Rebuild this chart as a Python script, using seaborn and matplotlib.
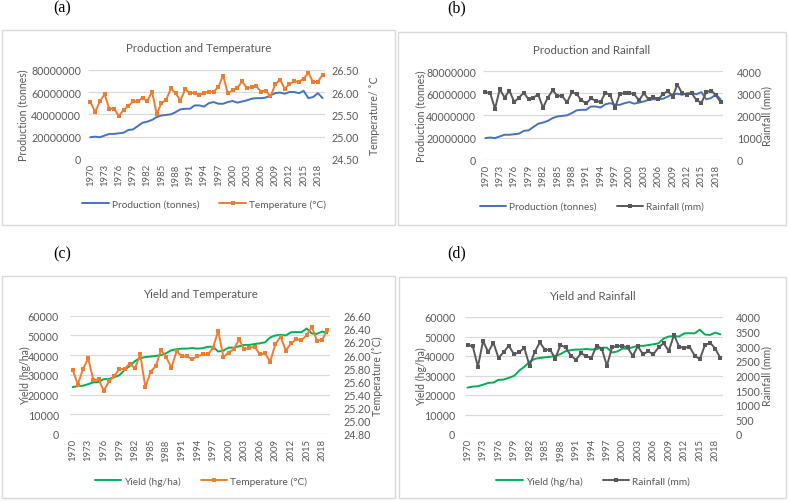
import matplotlib
matplotlib.use("Agg")
import matplotlib.pyplot as plt
from matplotlib.patches import Rectangle
from matplotlib.lines import Line2D
import seaborn as sns
import numpy as np
import pandas as pd

years = list(range(1970, 2020))
tick_years = list(range(1970, 2019, 3))

production = [19.5e6, 20.0e6, 19.5e6, 21.0e6, 22.5e6, 22.5e6, 23.0e6, 23.5e6, 26.0e6, 26.5e6,
              29.5e6, 32.5e6, 33.5e6, 35.0e6, 37.5e6, 39.0e6, 39.5e6, 40.0e6, 42.0e6, 44.5e6,
              45.0e6, 45.0e6, 48.0e6, 48.0e6, 47.0e6, 50.0e6, 51.0e6, 49.5e6, 49.5e6, 51.0e6,
              52.0e6, 50.5e6, 51.5e6, 52.5e6, 54.0e6, 54.5e6, 54.5e6, 55.0e6, 57.0e6, 59.0e6,
              59.5e6, 58.5e6, 60.0e6, 60.0e6, 59.0e6, 61.0e6, 54.5e6, 55.5e6, 59.0e6, 54.5e6]

temperature = [25.78, 25.55, 25.79, 25.95, 25.62, 25.63, 25.46, 25.60, 25.68, 25.79,
               25.79, 25.87, 25.80, 26.01, 25.51, 25.75, 25.83, 26.08, 25.97, 25.81,
               26.06, 25.98, 25.98, 25.94, 25.98, 26.01, 26.01, 26.11, 26.37, 25.97,
               26.04, 26.09, 26.24, 26.09, 26.11, 26.13, 26.01, 26.03, 25.90, 26.17,
               26.28, 26.07, 26.18, 26.24, 26.23, 26.30, 26.43, 26.22, 26.23, 26.39]

rainfall = [3050, 3000, 2300, 3180, 2800, 3120, 2600, 2800, 3020, 2720,
            2800, 2940, 2340, 2800, 3130, 2880, 2880, 2580, 3040, 2960,
            2680, 2540, 2760, 2660, 2600, 3020, 2920, 2330, 2970, 3000,
            3010, 2960, 2670, 3000, 2720, 2830, 2720, 2960, 3100, 2840,
            3390, 2990, 2940, 2990, 2680, 2560, 3040, 3120, 2920, 2590]

yield_ = [23800, 24300, 24500, 25300, 26200, 26400, 27800, 27900, 28800, 29800,
          32500, 34500, 37000, 38500, 39000, 39300, 39600, 40000, 41000, 42500,
          43000, 43300, 43300, 43600, 43300, 43500, 44200, 44300, 41800, 42300,
          43800, 43800, 44500, 45200, 45200, 45600, 46000, 46500, 49000, 50000,
          50200, 50000, 51600, 51700, 51600, 53500, 51000, 50800, 52000, 51100]

df = pd.DataFrame({"year": years, "production": production, "temperature": temperature,
                   "rainfall": rainfall, "yield": yield_})

sns.set_theme(style="white")
plt.rcParams["font.family"] = ["Lato", "DejaVu Sans"]

W, H = 789, 502
fig = plt.figure(figsize=(W / 100, H / 100), dpi=100)

TXT = "#595959"
GRID = "#D9D9D9"
BLUE = "#4472C4"
ORANGE = "#ED7D31"
GRAY = "#595959"
GREEN = "#00B050"
LW = 1.4
MS = 3.0


def fx(x):
    return x / W


def fy(y):
    return 1 - y / H


panels = [
    dict(box=(1.5, 31, 395.5, 225.5), ax=(88, 70.7, 325, 160),
         title="Production and Temperature", title_xy=(199, 48),
         left="production", left_color=BLUE, left_name="Production (tonnes)",
         left_lim=(0, 80e6), left_ticks=[0, 20e6, 40e6, 60e6, 80e6], left_fmt="{:.0f}",
         right="temperature", right_color=ORANGE, right_name="Temperature (°C)",
         right_lim=(24.5, 26.5), right_ticks=[24.5, 25.0, 25.5, 26.0, 26.5], right_fmt="{:.2f}",
         ylabel_l="Production (tonnes)", ylabel_r="Temperature/ ˚C",
         lx=23, rx=375, lpad=5, rpad=5, leg=(204, 205), label=("(a)", 62, 8)),
    dict(box=(398, 33, 785.5, 225.5), ax=(483, 72, 723, 160.7),
         title="Production and Rainfall", title_xy=(592, 50),
         left="production", left_color=BLUE, left_name="Production (tonnes)",
         left_lim=(0, 80e6), left_ticks=[0, 20e6, 40e6, 60e6, 80e6], left_fmt="{:.0f}",
         right="rainfall", right_color=GRAY, right_name="Rainfall (mm)",
         right_lim=(0, 4000), right_ticks=[0, 1000, 2000, 3000, 4000], right_fmt="{:.0f}",
         ylabel_l="Production (tonnes)", ylabel_r="Rainfall (mm)",
         lx=421, rx=767, lpad=5, rpad=10, leg=(592, 207.5), label=("(b)", 457, 8)),
    dict(box=(1.5, 277, 395.5, 499), ax=(70, 316.7, 330, 435),
         title="Yield and Temperature", title_xy=(200, 294),
         left="yield", left_color=GREEN, left_name="Yield (hg/ha)",
         left_lim=(0, 60000), left_ticks=[0, 10000, 20000, 30000, 40000, 50000, 60000], left_fmt="{:.0f}",
         right="temperature", right_color=ORANGE, right_name="Temperature (°C)",
         right_lim=(24.8, 26.6), right_ticks=[24.8, 25.0, 25.2, 25.4, 25.6, 25.8, 26.0, 26.2, 26.4, 26.6],
         right_fmt="{:.2f}",
         ylabel_l="Yield (hg/ha)", ylabel_r="Temperature (˚C)",
         lx=25, rx=377, lpad=8, rpad=10, leg=(201, 482), label=("(c)", 62, 254)),
    dict(box=(399, 278, 785.5, 499), ax=(465, 318, 723, 435),
         title="Yield and Rainfall", title_xy=(592, 296),
         left="yield", left_color=GREEN, left_name="Yield (hg/ha)",
         left_lim=(0, 60000), left_ticks=[0, 10000, 20000, 30000, 40000, 50000, 60000], left_fmt="{:.0f}",
         right="rainfall", right_color=GRAY, right_name="Rainfall (mm)",
         right_lim=(0, 4000), right_ticks=[0, 500, 1000, 1500, 2000, 2500, 3000, 3500, 4000],
         right_fmt="{:.0f}",
         ylabel_l="Yield (hg/ha)", ylabel_r="Rainfall (mm)",
         lx=421, rx=767, lpad=7, rpad=9, leg=(593, 482), label=("(d)", 457, 253)),
]

for p in panels:
    x0, y0, x1, y1 = p["box"]
    fig.patches.append(Rectangle((fx(x0), fy(y1)), fx(x1 - x0), (y1 - y0) / H,
                                 transform=fig.transFigure, facecolor="white",
                                 edgecolor=GRID, linewidth=1.0, zorder=-5))
    ax0, ay0, ax1, ay1 = p["ax"]
    ax = fig.add_axes([fx(ax0), fy(ay1), fx(ax1 - ax0), (ay1 - ay0) / H])
    ax.set_zorder(1)
    ax.patch.set_visible(False)
    ax2 = ax.twinx()
    ax2.set_zorder(2)
    ax2.patch.set_visible(False)

    xmin, xmax = years[0] - 0.5, years[-1] + 0.5
    ax.hlines(p["left_ticks"], xmin, xmax, colors=GRID, linewidth=0.9, zorder=1)

    sns.lineplot(data=df, x="year", y=p["left"], ax=ax, color=p["left_color"],
                 linewidth=LW, zorder=3)
    sns.lineplot(data=df, x="year", y=p["right"], ax=ax2, color=p["right_color"],
                 linewidth=LW, marker="s", markersize=MS, markeredgewidth=0,
                 zorder=4)

    for a in (ax, ax2):
        a.set_xlim(xmin, xmax)
        for s in a.spines.values():
            s.set_visible(False)
        a.set_xlabel("")
        a.set_ylabel("")
        a.grid(False)

    ax.set_ylim(*p["left_lim"])
    ax.set_yticks(p["left_ticks"])
    ax.set_yticklabels([p["left_fmt"].format(v) for v in p["left_ticks"]])
    ax2.set_ylim(*p["right_lim"])
    ax2.set_yticks(p["right_ticks"])
    ax2.set_yticklabels([p["right_fmt"].format(v) for v in p["right_ticks"]])

    ax.set_xticks(tick_years)
    ax.set_xticklabels([str(y) for y in tick_years], rotation=90)
    ax.tick_params(axis="x", length=0, pad=3, labelsize=6.8, labelcolor=TXT)
    ax2.tick_params(axis="x", length=0, labelbottom=False, labeltop=False)
    ax.tick_params(axis="y", length=0, pad=p["lpad"], labelsize=7.7, labelcolor=TXT)
    ax2.tick_params(axis="y", length=0, pad=p["rpad"], labelsize=7.7, labelcolor=TXT)

    fig.text(fx(p["title_xy"][0]), fy(p["title_xy"][1]), p["title"], ha="center", va="center",
             fontsize=8.3, color=TXT)
    cy = (ay0 + ay1) / 2
    fig.text(fx(p["lx"]), fy(cy), p["ylabel_l"], rotation=90, ha="center", va="center",
             fontsize=7.6, color=TXT)
    fig.text(fx(p["rx"]), fy(cy), p["ylabel_r"], rotation=90, ha="center", va="center",
             fontsize=7.6, color=TXT)

    handles = [Line2D([], [], color=p["left_color"], lw=LW),
               Line2D([], [], color=p["right_color"], lw=LW, marker="s", markersize=MS,
                      markeredgewidth=0)]
    fig.legend(handles, [p["left_name"], p["right_name"]], loc="center",
               bbox_to_anchor=(fx(p["leg"][0]), fy(p["leg"][1])), ncol=2, frameon=False,
               fontsize=7.3, labelcolor=TXT, handlelength=2.6, handletextpad=0.3,
               columnspacing=2.0, borderaxespad=0)

    lab, lxp, lyp = p["label"]
    fig.text(fx(lxp), fy(lyp), lab, ha="center", va="center", fontsize=11.5,
             family=["Liberation Serif", "DejaVu Serif"], color="black")

fig.savefig("out.png", dpi=100, facecolor="white")
